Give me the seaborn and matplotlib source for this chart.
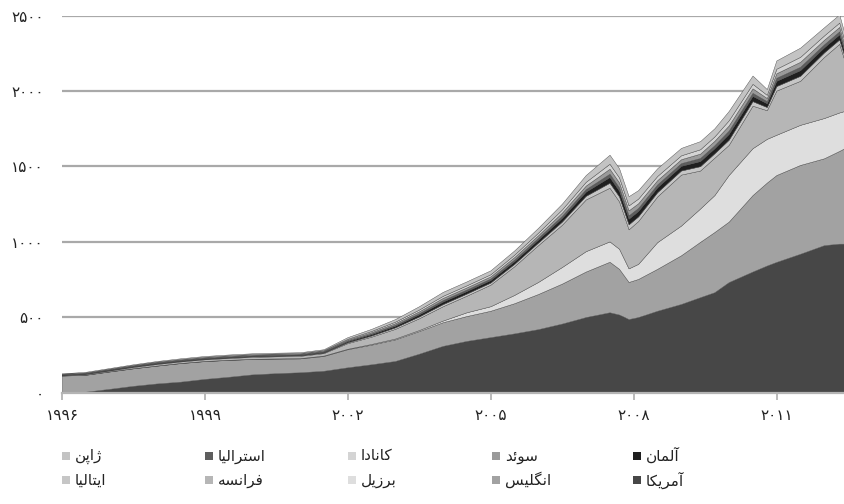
import matplotlib
matplotlib.use("Agg")
import matplotlib.pyplot as plt
from matplotlib.patches import Rectangle
import pandas as pd
import seaborn as sns

# time axis (fractional years) and stacked series
years = [1996.0, 1996.5, 1997.0, 1997.5, 1998.0, 1998.5, 1999.0, 1999.5, 2000.0, 2000.5,
         2001.0, 2001.5, 2002.0, 2002.5, 2003.0, 2003.5, 2004.0, 2004.5, 2005.0, 2005.5,
         2006.0, 2006.5, 2007.0, 2007.5, 2007.7, 2007.9, 2008.1, 2008.5, 2009.0, 2009.4,
         2009.7, 2010.0, 2010.5, 2010.8, 2011.0, 2011.5, 2012.0, 2012.32, 2012.43]

usa = [0, 3, 22, 42, 58, 70, 88, 102, 118, 126, 132, 142, 165, 185, 207, 255, 307, 340, 365, 390,
       418, 455, 498, 530, 515, 485, 498, 540, 585, 630, 663, 730, 800, 840, 864, 918, 975, 985, 985]
uk = [110, 112, 115, 116, 118, 123, 118, 112, 102, 96, 92, 98, 120, 130, 143, 150, 157, 165, 175, 200,
      233, 265, 302, 335, 303, 246, 253, 278, 323, 367, 399, 401, 507, 550, 576, 589, 576, 615, 633]
brazil = [1, 1, 1, 1, 1, 1, 1, 1, 1, 2, 2, 3, 3, 5, 6, 7, 11, 25, 30, 55,
          80, 110, 135, 135, 133, 90, 100, 177, 197, 221, 245, 309, 311, 290, 267, 266, 267, 255, 247]
france = [2, 5, 6, 8, 10, 10, 11, 12, 13, 14, 15, 16, 37, 48, 64, 78, 95, 110, 143, 190,
          244, 280, 343, 356, 314, 259, 284, 303, 338, 252, 248, 200, 282, 190, 293, 292, 405, 455, 335]
italy = [2, 2, 2, 3, 3, 3, 3, 3, 4, 4, 4, 4, 6, 8, 10, 12, 14, 14, 14, 16,
         17, 21, 24, 33, 33, 33, 31, 28, 27, 29, 29, 34, 30, 21, 30, 33, 30, 29, 27]
germany = [2, 2, 3, 3, 4, 4, 4, 4, 4, 4, 4, 5, 7, 9, 11, 14, 17, 17, 17, 18,
           20, 25, 28, 38, 38, 38, 36, 33, 31, 34, 34, 39, 35, 25, 35, 38, 34, 34, 32]
australia = [1, 1, 2, 2, 2, 2, 2, 2, 2, 2, 2, 3, 4, 5, 7, 8, 10, 10, 10, 11,
             12, 14, 16, 22, 22, 22, 20, 19, 18, 20, 20, 22, 20, 14, 20, 22, 20, 20, 18]
sweden = [2, 2, 2, 2, 3, 3, 3, 4, 4, 4, 4, 4, 6, 8, 10, 12, 14, 14, 14, 16,
          17, 21, 24, 33, 33, 33, 31, 28, 26, 29, 29, 34, 30, 21, 30, 33, 30, 29, 27]
canada = [2, 2, 2, 3, 3, 3, 4, 4, 4, 4, 4, 4, 6, 8, 10, 12, 14, 14, 14, 16,
          17, 21, 25, 33, 33, 33, 31, 28, 26, 29, 29, 34, 30, 21, 30, 33, 29, 29, 27]
japan = [3, 5, 5, 5, 5, 6, 6, 6, 6, 6, 6, 6, 11, 14, 17, 22, 26, 26, 26, 28,
         32, 38, 45, 60, 61, 61, 56, 51, 49, 54, 54, 62, 55, 38, 55, 61, 54, 54, 49]

names = ["آمریکا", "انگلیس", "برزیل", "فرانسه", "ایتالیا",
         "آلمان", "استرالیا", "سوئد", "کانادا", "ژاپن"]
colors = ["#474747", "#a2a2a2", "#dedede", "#b6b6b6", "#c6c6c6",
          "#1f1f1f", "#5e5e5e", "#9a9a9a", "#d4d4d4", "#c3c3c3"]
xticks = [1996, 1999, 2002, 2005, 2008, 2011]
yticks = [0, 500, 1000, 1500, 2000, 2500]

# legend grid: row 1 / row 2, left to right
legend_rows = [["ژاپن", "استرالیا", "کانادا", "سوئد", "آلمان"],
               ["ایتالیا", "فرانسه", "برزیل", "انگلیس", "آمریکا"]]

df = pd.DataFrame(dict(zip(names, [usa, uk, brazil, france, italy,
                                   germany, australia, sweden, canada, japan])), index=years)

# matplotlib has no arabic shaping -> pick presentation forms by hand and reverse
FORMS = {
    "ا": ("\uFE8D", "\uFE8E", None, None), "آ": ("\uFE81", "\uFE82", None, None),
    "ب": ("\uFE8F", "\uFE90", "\uFE91", "\uFE92"), "پ": ("\uFB56", "\uFB57", "\uFB58", "\uFB59"),
    "ت": ("\uFE95", "\uFE96", "\uFE97", "\uFE98"), "د": ("\uFEA9", "\uFEAA", None, None),
    "ر": ("\uFEAD", "\uFEAE", None, None), "ز": ("\uFEAF", "\uFEB0", None, None),
    "ژ": ("\uFB8A", "\uFB8B", None, None), "س": ("\uFEB1", "\uFEB2", "\uFEB3", "\uFEB4"),
    "ف": ("\uFED1", "\uFED2", "\uFED3", "\uFED4"), "ک": ("\uFB8E", "\uFB8F", "\uFB90", "\uFB91"),
    "گ": ("\uFB92", "\uFB93", "\uFB94", "\uFB95"), "ل": ("\uFEDD", "\uFEDE", "\uFEDF", "\uFEE0"),
    "م": ("\uFEE1", "\uFEE2", "\uFEE3", "\uFEE4"), "ن": ("\uFEE5", "\uFEE6", "\uFEE7", "\uFEE8"),
    "ه": ("\uFEE9", "\uFEEA", "\uFEEB", "\uFEEC"), "و": ("\uFEED", "\uFEEE", None, None),
    "ی": ("\uFBFC", "\uFBFD", "\uFBFE", "\uFBFF"), "ئ": ("\uFE89", "\uFE8A", "\uFE8B", "\uFE8C"),
}


def fa(word):
    out = []
    for i, ch in enumerate(word):
        f = FORMS[ch]
        prev_j = i > 0 and FORMS[word[i - 1]][2] is not None
        next_j = f[2] is not None and i < len(word) - 1
        if prev_j and next_j:
            out.append(f[3])
        elif prev_j:
            out.append(f[1])
        elif next_j:
            out.append(f[2])
        else:
            out.append(f[0])
    return "".join(reversed(out))


def fa_num(n):
    return str(n).translate(str.maketrans("0123456789", "۰۱۲۳۴۵۶۷۸۹"))


sns.set_theme(style="white")
plt.rcParams["font.family"] = ["DejaVu Sans"]

fig = plt.figure(figsize=(8.45, 5.04), dpi=100)
ax = fig.add_axes([62 / 845, 1 - 392.7 / 504, 1 - 62 / 845, 377 / 504])

ax.stackplot(df.index, df.T.values, colors=colors, edgecolors=colors, linewidth=0.3)

ax.set_xlim(1996, 2012.43)
ax.set_ylim(0, 2500)
ax.set_xticks(xticks)
ax.set_xticklabels([fa_num(v) for v in xticks])
ax.set_yticks(yticks)
ax.set_yticklabels([fa_num(v) for v in yticks])
ax.yaxis.grid(True, color="#a9a9a9", linewidth=1.6)
ax.xaxis.grid(False)
ax.set_axisbelow(True)
for s in ["left", "right", "top"]:
    ax.spines[s].set_visible(False)
ax.spines["bottom"].set_color("#b4b4b4")
ax.spines["bottom"].set_linewidth(1.6)
ax.tick_params(axis="x", length=5, width=1.3, color="#b4b4b4", direction="out",
               pad=6, labelsize=11, labelcolor="#222222")
ax.tick_params(axis="y", length=0, pad=13, labelsize=11, labelcolor="#222222")
ax.tick_params(axis="x", bottom=True)

# legend, laid out like the original (5 equal columns, 2 rows)
col_x = [62, 205, 348, 492, 633]
row_y = [456, 480]
cmap = dict(zip(names, colors))
for r, row in enumerate(legend_rows):
    for c, name in enumerate(row):
        x0, y0 = col_x[c], row_y[r]
        fig.patches.append(Rectangle(((x0) / 845, 1 - (y0 + 4) / 504), 8 / 845, 8 / 504,
                                     transform=fig.transFigure, facecolor=cmap[name],
                                     edgecolor="none"))
        fig.text((x0 + 13) / 845, 1 - y0 / 504, fa(name), ha="left", va="center",
                 fontsize=11, color="#222222")

fig.savefig("out.png", dpi=100)
